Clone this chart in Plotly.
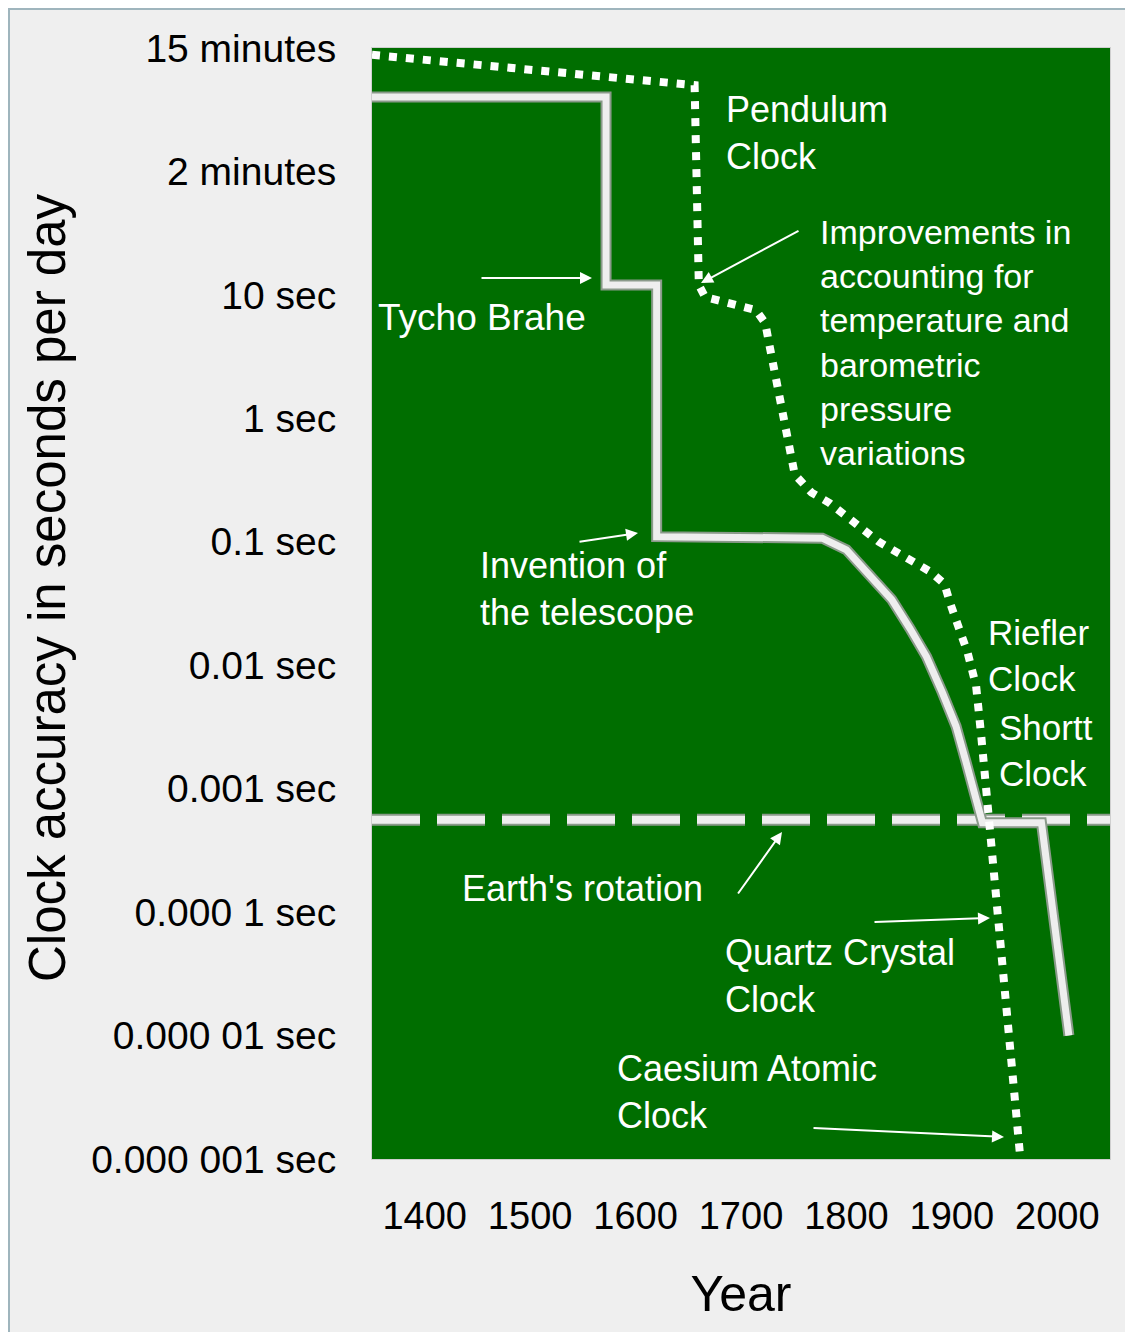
import plotly.graph_objects as go

# ---------------- data ----------------
y_tick_vals = [1000, 100, 10, 1, 0.1, 0.01, 0.001, 1e-4, 1e-5, 1e-6]
y_tick_text = ["15 minutes", "2 minutes", "10 sec", "1 sec", "0.1 sec", "0.01 sec",
               "0.001 sec", "0.000 1 sec", "0.000 01 sec", "0.000 001 sec"]
x_tick_vals = [1400, 1500, 1600, 1700, 1800, 1900, 2000]

# best-clock line (solid)
solid_years = [1350, 1572, 1572, 1620, 1620, 1771, 1777, 1800, 1824, 1843, 1860,
               1876, 1891, 1904, 1913, 1921, 1926, 1929, 1985, 2011]
solid_acc = [400, 400, 12, 12, 0.11, 0.11, 0.107, 0.086, 0.052, 0.034, 0.020,
             0.0117, 0.0060, 0.0032, 0.0017, 0.00092, 0.00059, 0.00053, 0.00053, 1.0e-5]

# pendulum / later clocks (dotted)
dotted_years = [1350, 1656, 1660, 1666, 1714, 1723, 1727, 1743, 1751, 1767, 1784,
                1831, 1880, 1893, 1898, 1915, 1923, 1928, 1934, 1938, 1947, 1956, 1965]
dotted_acc = [880, 500, 12, 9.6, 7.55, 5.9, 3.9, 0.88, 0.35, 0.25, 0.206,
              0.0995, 0.057, 0.0455, 0.0325, 0.0126, 0.0068, 0.0026, 0.00075,
              0.00029, 4.25e-5, 6.3e-6, 1e-6]

# Earth's rotation (dashed)
earth_years = [1350, 2050]
earth_acc = [5.6e-4, 5.6e-4]

# ---------------- layout helpers ----------------
# page has an 8px body margin; figure is sized to fill the rest of the window
PAGE_OFF = 8
W, H = 1133 - PAGE_OFF, 1332 - PAGE_OFF
# plot area in page pixels (reference)
L, R, T, B = 372, 1110, 48, 1159


def px_x(px):
    return (px - L) / (R - L)


def px_y(py):
    return (B - py) / (B - T)


FONT = "Liberation Sans, Arial, sans-serif"
GREEN = "#006e00"

fig = go.Figure()

# dashed Earth's rotation
fig.add_trace(go.Scatter(x=earth_years, y=earth_acc, mode="lines",
                         line=dict(color="#8a9a8a", width=12, dash="48px,17px"),
                         hoverinfo="skip", showlegend=False))
fig.add_trace(go.Scatter(x=earth_years, y=earth_acc, mode="lines",
                         line=dict(color="#eeeeee", width=8, dash="48px,17px"),
                         hoverinfo="skip", showlegend=False))
# solid line
fig.add_trace(go.Scatter(x=solid_years, y=solid_acc, mode="lines",
                         line=dict(color="#8a9a8a", width=11),
                         hoverinfo="skip", showlegend=False))
fig.add_trace(go.Scatter(x=solid_years, y=solid_acc, mode="lines",
                         line=dict(color="#eeeeee", width=7),
                         hoverinfo="skip", showlegend=False))
# dotted line
fig.add_trace(go.Scatter(x=dotted_years, y=dotted_acc, mode="lines",
                         line=dict(color="#ffffff", width=8, dash="8px,9px"),
                         hoverinfo="skip", showlegend=False))

# ---------------- text labels ----------------
labels = [
    ("Pendulum<br>Clock", 724, 133, 36),
    ("Improvements in<br>accounting for<br>temperature and<br>barometric<br>pressure<br>variations", 818, 343, 34),
    ("Tycho Brahe", 376, 318, 37),
    ("Invention of<br>the telescope", 478, 589, 36),
    ("Riefler<br>Clock", 986, 655, 35),
    ("Shortt<br>Clock", 997, 750, 35),
    ("Earth's rotation", 460, 888, 36),
    ("Quartz Crystal<br>Clock", 723, 976, 36),
    ("Caesium Atomic<br>Clock", 615, 1092, 36),
]
annotations = []
for txt, lx, cy, fs in labels:
    annotations.append(dict(text=txt, x=px_x(lx), y=px_y(cy), xref="paper", yref="paper",
                            xanchor="left", yanchor="middle", align="left", showarrow=False,
                            font=dict(family=FONT, size=fs, color="#ffffff")))

# arrows: (tail px, tip px)
arrows = [
    ((480, 278), (592, 278)),
    ((800, 230), (701, 283)),
    ((578, 542), (638, 533)),
    ((737, 895), (782, 832)),
    ((873, 922), (990, 918)),
    ((812, 1128), (1004, 1137)),
]
for (tx, ty), (hx, hy) in arrows:
    annotations.append(dict(text="", x=px_x(hx), y=px_y(hy), xref="paper", yref="paper",
                            ax=tx - hx, ay=ty - hy, axref="pixel", ayref="pixel",
                            showarrow=True, arrowhead=2, arrowsize=1.2, arrowwidth=2,
                            arrowcolor="#ffffff"))

# y-axis title (placed precisely, rotated)
annotations.append(dict(text="Clock accuracy in seconds per day", x=px_x(47), y=px_y(588),
                        xref="paper", yref="paper", xanchor="center", yanchor="middle",
                        textangle=-90, showarrow=False,
                        font=dict(family=FONT, size=51, color="#000000")))

# ---------------- frame (thin grey-blue edge top & left) ----------------
shapes = [
    dict(type="rect", xref="paper", yref="paper", x0=px_x(8), x1=px_x(1133), y0=px_y(8), y1=px_y(10),
         fillcolor="#9fb5bd", line=dict(width=0), layer="below"),
    dict(type="rect", xref="paper", yref="paper", x0=px_x(8), x1=px_x(10), y0=px_y(8), y1=px_y(1332),
         fillcolor="#9fb5bd", line=dict(width=0), layer="below"),
]

fig.update_layout(
    width=W, height=H, autosize=False,
    margin=dict(l=L - PAGE_OFF, r=W - (R - PAGE_OFF), t=T - PAGE_OFF, b=H - (B - PAGE_OFF), pad=0),
    paper_bgcolor="#efefef", plot_bgcolor=GREEN,
    font=dict(family=FONT, color="#000000"),
    annotations=annotations, shapes=shapes,
    xaxis=dict(range=[1350, 2050], tickvals=x_tick_vals, showgrid=False, zeroline=False,
               ticks="", ticklabelstandoff=23, tickfont=dict(size=38, color="#000000"),
               showline=True, linecolor="#cfcfcf", linewidth=1, mirror=True,
               title=dict(text="Year", font=dict(size=50, color="#000000"), standoff=40)),
    yaxis=dict(type="log", range=[-6, 3], tickvals=y_tick_vals, ticktext=y_tick_text,
               showgrid=False, zeroline=False, ticks="", ticklabelstandoff=27,
               tickfont=dict(size=39, color="#000000"),
               showline=True, linecolor="#cfcfcf", linewidth=1, mirror=True),
)

fig.write_html("out.html")
